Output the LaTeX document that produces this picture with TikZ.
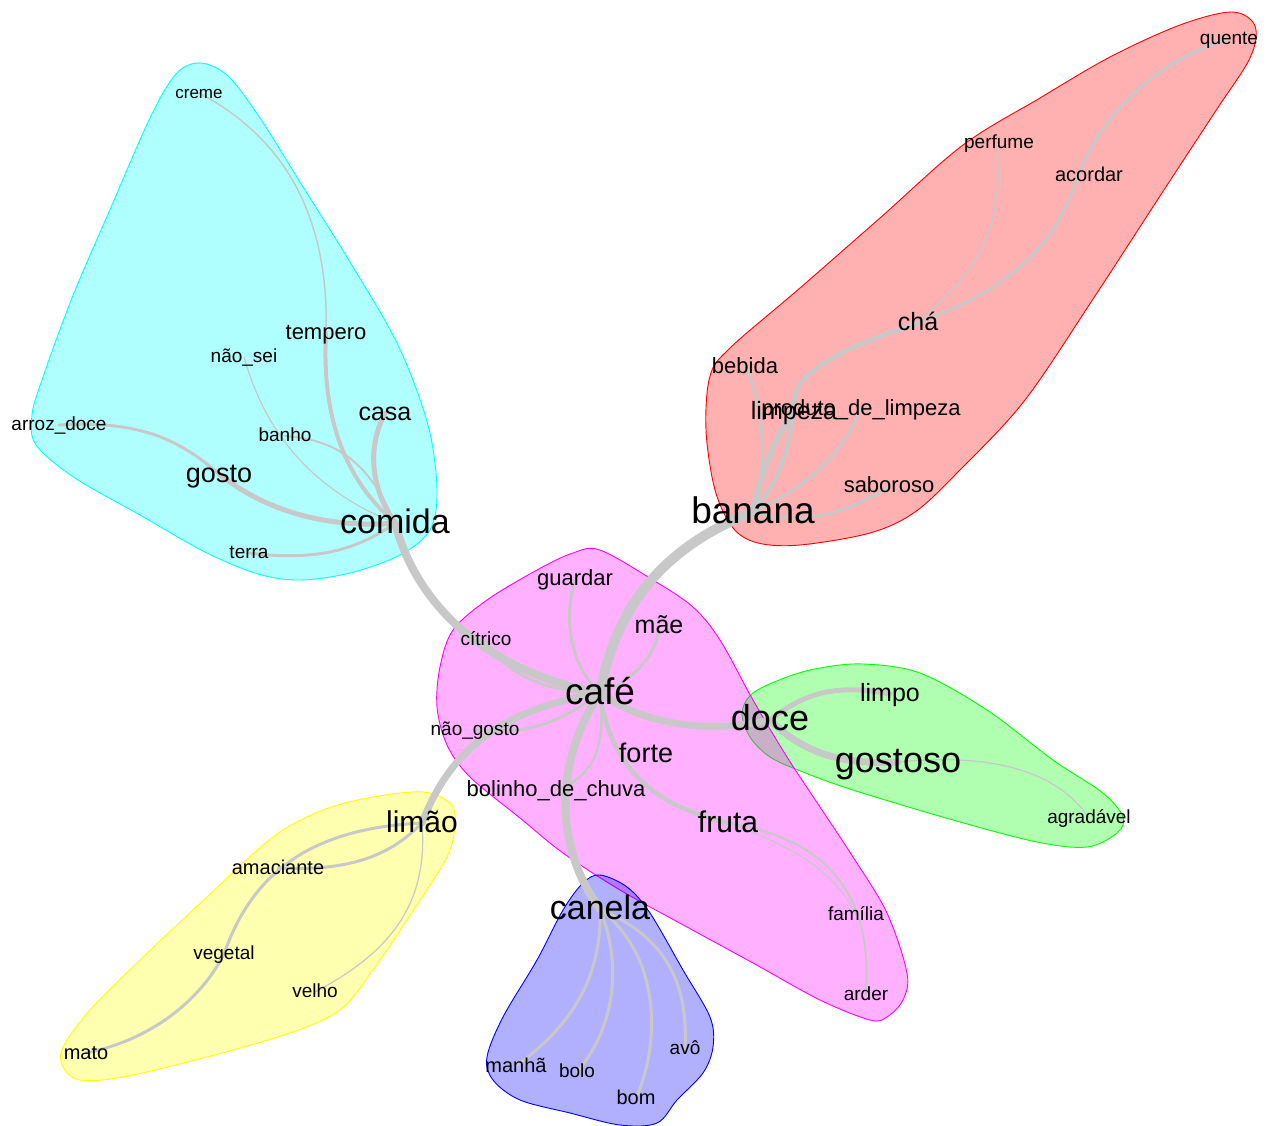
\documentclass[tikz,border=0pt]{standalone}
\usepackage{fontspec}
\setmainfont{Liberation Sans}
\pgfdeclarelayer{hulls}
\pgfdeclarelayer{edges}
\pgfsetlayers{hulls,edges,main}
\definecolor{eg}{HTML}{C8C8C8}
\definecolor{hcyan}{RGB}{0,255,255}
\definecolor{hred}{RGB}{255,0,0}
\definecolor{hgreen}{RGB}{0,255,0}
\definecolor{hmagenta}{RGB}{255,0,255}
\definecolor{hyellow}{RGB}{255,255,0}
\definecolor{hblue}{RGB}{0,0,255}
\begin{document}
\begin{tikzpicture}[x=1pt,y=-1pt,
  w/.style={font=\fontsize{#1}{#1}\selectfont, inner sep=0pt, text height=0.75*#1pt, text depth=0.15*#1pt},
  e/.style={draw=eg, line width=#1, line cap=round},
  hull/.style={fill=#1, fill opacity=0.31, draw=#1, line width=0.9pt}]
\useasboundingbox (0,0) rectangle (1275,1126);
% ---------- labels ----------
\node[w=17] (creme) at (199,93) {creme};
\node[w=22] (tempero) at (326,333) {tempero};
\node[w=19] (naosei) at (244,357) {não\_sei};
\node[w=25] (casa) at (385,413) {casa};
\node[w=19] (arroz) at (59,425) {arroz\_doce};
\node[w=19] (banho) at (285,436) {banho};
\node[w=27] (gosto) at (219,474) {gosto};
\node[w=34] (comida) at (395,523) {comida};
\node[w=19] (terra) at (249,553) {terra};
\node[w=19] (quente) at (1229,39) {quente};
\node[w=19] (perfume) at (999,143) {perfume};
\node[w=20] (acordar) at (1089,176) {acordar};
\node[w=25] (cha) at (918,323) {chá};
\node[w=22] (bebida) at (745,367) {bebida};
\node[w=25] (limpeza) at (794,412) {limpeza};
\node[w=22] (produto) at (861,409) {produto\_de\_limpeza};
\node[w=22] (saboroso) at (889,486) {saboroso};
\node[w=37] (banana) at (753,512) {banana};
\node[w=22] (guardar) at (575,579) {guardar};
\node[w=25] (mae) at (659,626) {mãe};
\node[w=19] (citrico) at (486,640) {cítrico};
\node[w=37] (cafe) at (600,693) {café};
\node[w=19] (naogosto) at (475,730) {não\_gosto};
\node[w=27] (forte) at (646,754) {forte};
\node[w=22] (bolinho) at (556,790) {bolinho\_de\_chuva};
\node[w=30] (fruta) at (728,823) {fruta};
\node[w=19] (familia) at (856,915) {família};
\node[w=19] (arder) at (866,995) {arder};
\node[w=25] (limpo) at (890,694) {limpo};
\node[w=36] (doce) at (770,720) {doce};
\node[w=36] (gostoso) at (898,762) {gostoso};
\node[w=19] (agradavel) at (1089,818) {agradável};
\node[w=30] (limao) at (422,823) {limão};
\node[w=20] (amaciante) at (278,868) {amaciante};
\node[w=19] (vegetal) at (224,954) {vegetal};
\node[w=19] (velho) at (315,992) {velho};
\node[w=20] (mato) at (86,1053) {mato};
\node[w=34] (canela) at (600,909) {canela};
\node[w=19] (avo) at (685,1049) {avô};
\node[w=20] (manha) at (516,1066) {manhã};
\node[w=19] (bolo) at (577,1072) {bolo};
\node[w=20] (bom) at (636,1098) {bom};
% ---------- hulls ----------
\begin{pgfonlayer}{hulls}
\path[hull=hcyan] plot[smooth cycle, tension=0.55] coordinates {
 (200,63) (228,76) (260,118) (300,182) (350,262) (398,345) (428,425) (437,490)
 (430,530) (400,555) (350,573) (300,580) (258,574) (205,552) (140,515) (75,478)
 (36,445) (32,415) (42,380) (72,298) (112,205) (150,118) (176,74)};
\path[hull=hred] plot[smooth cycle, tension=0.55] coordinates {
 (1232,12) (1255,26) (1250,58) (1215,112) (1160,196) (1095,296) (1025,400)
 (960,470) (915,512) (870,533) (800,545) (758,543) (733,528) (715,490)
 (706,430) (710,376) (730,348) (800,288) (880,218) (963,145) (1040,98)
 (1110,57) (1180,25)};
\path[hull=hgreen] plot[smooth cycle, tension=0.55] coordinates {
 (863,664) (920,673) (987,710) (1053,760) (1103,793) (1123,817) (1117,833)
 (1087,847) (1037,842) (953,820) (853,790) (803,772) (770,757) (750,737)
 (742,713) (753,693) (787,677) (820,668)};
\path[hull=hmagenta] plot[smooth cycle, tension=0.55] coordinates {
 (600,550) (653,580) (693,607) (720,640) (753,700) (787,757) (820,807)
 (853,857) (887,913) (907,973) (903,1000) (887,1017) (870,1020) (820,1000)
 (753,963) (687,927) (620,890) (563,853) (520,818) (470,777) (447,745)
 (437,707) (440,667) (453,630) (487,600) (537,570) (573,553)};
\path[hull=hyellow] plot[smooth cycle, tension=0.55] coordinates {
 (423,792) (450,803) (455,822) (447,857) (407,920) (373,970) (340,1010)
 (290,1033) (207,1057) (123,1077) (80,1080) (63,1067) (63,1047) (90,1010)
 (140,960) (207,897) (273,837) (323,810) (373,797)};
\path[hull=hblue] plot[smooth cycle, tension=0.55] coordinates {
 (600,875) (627,887) (650,913) (683,970) (710,1017) (713,1047) (703,1073)
 (677,1100) (657,1123) (620,1125) (570,1113) (520,1100) (493,1080) (487,1057)
 (503,1017) (537,960) (563,910) (583,883)};
\end{pgfonlayer}
% ---------- edges ----------
\begin{pgfonlayer}{edges}
% cyan
\draw[e=8pt] (comida.center) .. controls (415,600) and (480,670) .. (cafe.center);
\draw[e=5pt] (comida.center) .. controls (372,490) and (366,450) .. (casa.center);
\draw[e=5pt] (comida.center) .. controls (350,527) and (280,522) .. (gosto.center);
\draw[e=3pt] (gosto.center) .. controls (180,440) and (140,420) .. (arroz.center);
\draw[e=4pt] (comida.center) .. controls (340,475) and (322,410) .. (tempero.center);
\draw[e=1.5pt] (tempero.center) .. controls (330,200) and (270,130) .. (creme.center);
\draw[e=2pt] (comida.center) .. controls (370,465) and (340,440) .. (banho.center);
\draw[e=1.2pt] (comida.center) .. controls (300,485) and (262,420) .. (naosei.center);
\draw[e=3pt] (comida.center) .. controls (360,548) and (320,562) .. (terra.center);
% red
\draw[e=10pt] (cafe.center) .. controls (615,610) and (660,548) .. (banana.center);
\draw[e=6pt] (banana.center) .. controls (760,480) and (772,440) .. (limpeza.center);
\draw[e=4.5pt] (banana.center) .. controls (790,470) and (792,420) .. (795,395) .. controls (800,370) and (850,345) .. (cha.center);
\draw[e=3pt] (banana.center) .. controls (800,490) and (840,460) .. (produto.center);
\draw[e=3pt] (banana.center) .. controls (800,528) and (850,512) .. (saboroso.center);
\draw[e=3pt] (banana.center) .. controls (770,460) and (762,400) .. (bebida.center);
\draw[e=3pt] (cha.center) .. controls (1000,292) and (1050,255) .. (1075,185) .. controls (1100,110) and (1160,60) .. (quente.center);
\draw[e=1.5pt] (cha.center) .. controls (970,275) and (1002,245) .. (perfume.center);
% green
\draw[e=7pt] (cafe.center) .. controls (640,722) and (700,735) .. (doce.center);
\draw[e=5pt] (doce.center) .. controls (800,697) and (830,682) .. (limpo.center);
\draw[e=7pt] (doce.center) .. controls (795,745) and (830,766) .. (gostoso.center);
\draw[e=1.2pt] (gostoso.center) .. controls (1000,752) and (1060,775) .. (agradavel.center);
% magenta
\draw[e=3pt] (cafe.center) .. controls (570,665) and (563,620) .. (guardar.center);
\draw[e=3pt] (cafe.center) .. controls (630,682) and (657,658) .. (mae.center);
\draw[e=3pt] (cafe.center) .. controls (540,692) and (505,672) .. (citrico.center);
\draw[e=3pt] (cafe.center) .. controls (560,722) and (530,735) .. (naogosto.center);
\draw[e=7pt] (cafe.center) .. controls (500,710) and (450,750) .. (limao.center);
\draw[e=4.5pt] (cafe.center) .. controls (610,765) and (650,805) .. (fruta.center);
\draw[e=2.5pt] (cafe.center) .. controls (607,752) and (590,778) .. (bolinho.center);
\draw[e=8pt] (cafe.center) .. controls (555,760) and (553,845) .. (canela.center);
\draw[e=1.2pt] (fruta.center) .. controls (790,845) and (835,870) .. (familia.center);
\draw[e=2pt] (fruta.center) .. controls (800,835) and (875,870) .. (arder.center);
% yellow
\draw[e=3pt] (limao.center) .. controls (395,850) and (360,872) .. (amaciante.center);
\draw[e=3pt] (limao.center) .. controls (320,828) and (255,865) .. (vegetal.center);
\draw[e=3pt] (vegetal.center) .. controls (205,992) and (160,1038) .. (mato.center);
\draw[e=1.2pt] (limao.center) .. controls (428,900) and (395,950) .. (velho.center);
% blue
\draw[e=3pt] (canela.center) .. controls (602,985) and (565,1030) .. (manha.center);
\draw[e=3pt] (canela.center) .. controls (628,980) and (605,1040) .. (bolo.center);
\draw[e=3pt] (canela.center) .. controls (665,960) and (658,1050) .. (bom.center);
\draw[e=3pt] (canela.center) .. controls (672,940) and (688,990) .. (avo.center);
\end{pgfonlayer}
\end{tikzpicture}
\end{document}
